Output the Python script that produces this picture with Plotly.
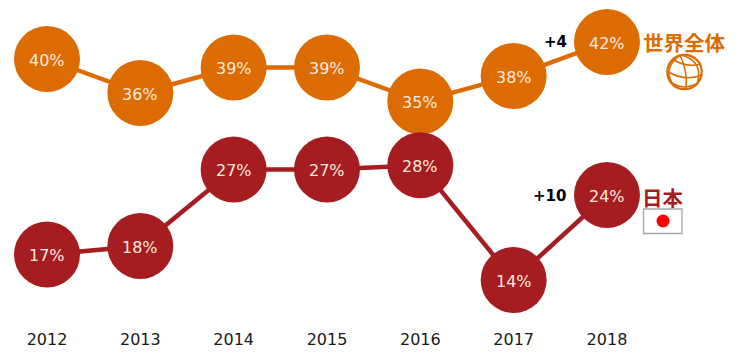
import plotly.graph_objects as go

years = [2012, 2013, 2014, 2015, 2016, 2017, 2018]
world_values = [40, 36, 39, 39, 35, 38, 42]
japan_values = [17, 18, 27, 27, 27.5, 14, 24]
world_labels = ["40%", "36%", "39%", "39%", "35%", "38%", "42%"]
japan_labels = ["17%", "18%", "27%", "27%", "28%", "14%", "24%"]
WORLD = "#DC6C02"
JAPAN = "#A51D21"
W, H, B = 740, 356, 30

px = lambda x: x / W
py = lambda y: (H - B - y) / (H - B)

def trace(vals, color, name):
    return go.Scatter(
        x=years, y=vals, name=name, mode="lines+markers",
        line=dict(color=color, width=4.5),
        marker=dict(size=66, color=color, line=dict(width=0), opacity=1),
        hoverinfo="skip", cliponaxis=False,
    )

fig = go.Figure([trace(world_values, WORLD, "世界全体"),
                 trace(japan_values, JAPAN, "日本")])

def note(x, y, text, color="#000000", size=15, bold=True, family="DejaVu Sans"):
    s = f"<b>{text}</b>" if bold else text
    return dict(xref="paper", yref="paper", x=px(x), y=py(y), text=s, showarrow=False,
                xanchor="center", yanchor="middle",
                font=dict(family=family, size=size, color=color))

CJK = "Noto Sans CJK JP"
annotations = [
    note(555, 42, "+4"),
    note(549, 196, "+10"),
    note(684, 42, "世界全体", WORLD, 20.5, True, CJK),
    note(663, 197, "日本", JAPAN, 20.5, True, CJK),
]
for vals, labels in ((world_values, world_labels), (japan_values, japan_labels)):
    for yr, v, lab in zip(years, vals, labels):
        annotations.append(dict(x=yr, y=v, xref="x", yref="y", text=lab, showarrow=False,
                                yshift=-1, font=dict(family="DejaVu Sans", size=16, color="#FBE9DF")))

def ell(cx, cy, r, color, width=2, fill="rgba(0,0,0,0)"):
    return dict(type="circle", xref="paper", yref="paper",
                x0=px(cx - r), x1=px(cx + r), y0=py(cy + r), y1=py(cy - r),
                line=dict(color=color, width=width), fillcolor=fill, layer="above")

def curve(pts, color=WORLD, width=1.6):
    (a, b, c) = pts
    p = (f"M {px(a[0])} {py(a[1])} Q {px(b[0])} {py(b[1])} {px(c[0])} {py(c[1])}")
    return dict(type="path", xref="paper", yref="paper", path=p,
                line=dict(color=color, width=width), layer="above")

shapes = [
    dict(type="rect", xref="paper", yref="paper", x0=px(643.5), x1=px(682), y0=py(233.5), y1=py(209),
         line=dict(color="#A6A6A6", width=1.3), fillcolor="#FFFFFF", layer="above"),
    ell(663, 221, 6.5, "#FF0000", 0, "#FF0000"),
    ell(684.5, 72, 17.2, WORLD, 2.2),
    curve(((680, 55), (660, 70), (676, 88))),
    curve(((680, 55), (688, 72), (686, 89))),
    curve(((682, 55), (704, 62), (697, 84))),
    curve(((672, 59), (686, 68), (701, 64))),
    curve(((667, 71), (684, 82), (702, 75))),
    curve(((670, 82), (684, 91), (696, 84))),
]

fig.update_layout(
    width=W, height=H, margin=dict(l=0, r=0, t=0, b=B),
    paper_bgcolor="#FFFFFF", plot_bgcolor="#FFFFFF", showlegend=False,
    annotations=annotations, shapes=shapes,
    xaxis=dict(range=[2012 - 47 / 93.33, 2012 + (740 - 47) / 93.33], tickvals=years,
               ticktext=[str(y) for y in years], showgrid=False, zeroline=False, showline=False,
               ticks="", tickfont=dict(family="DejaVu Sans", size=16, color="#1A1A1A"), ticklabelstandoff=2),
    yaxis=dict(range=[(399 - 326) / 8.5, 399 / 8.5], visible=False),
)
fig.write_html("out.html", config=dict(displayModeBar=False),
               post_script="document.body.style.margin='0';document.documentElement.style.overflow='hidden';")
